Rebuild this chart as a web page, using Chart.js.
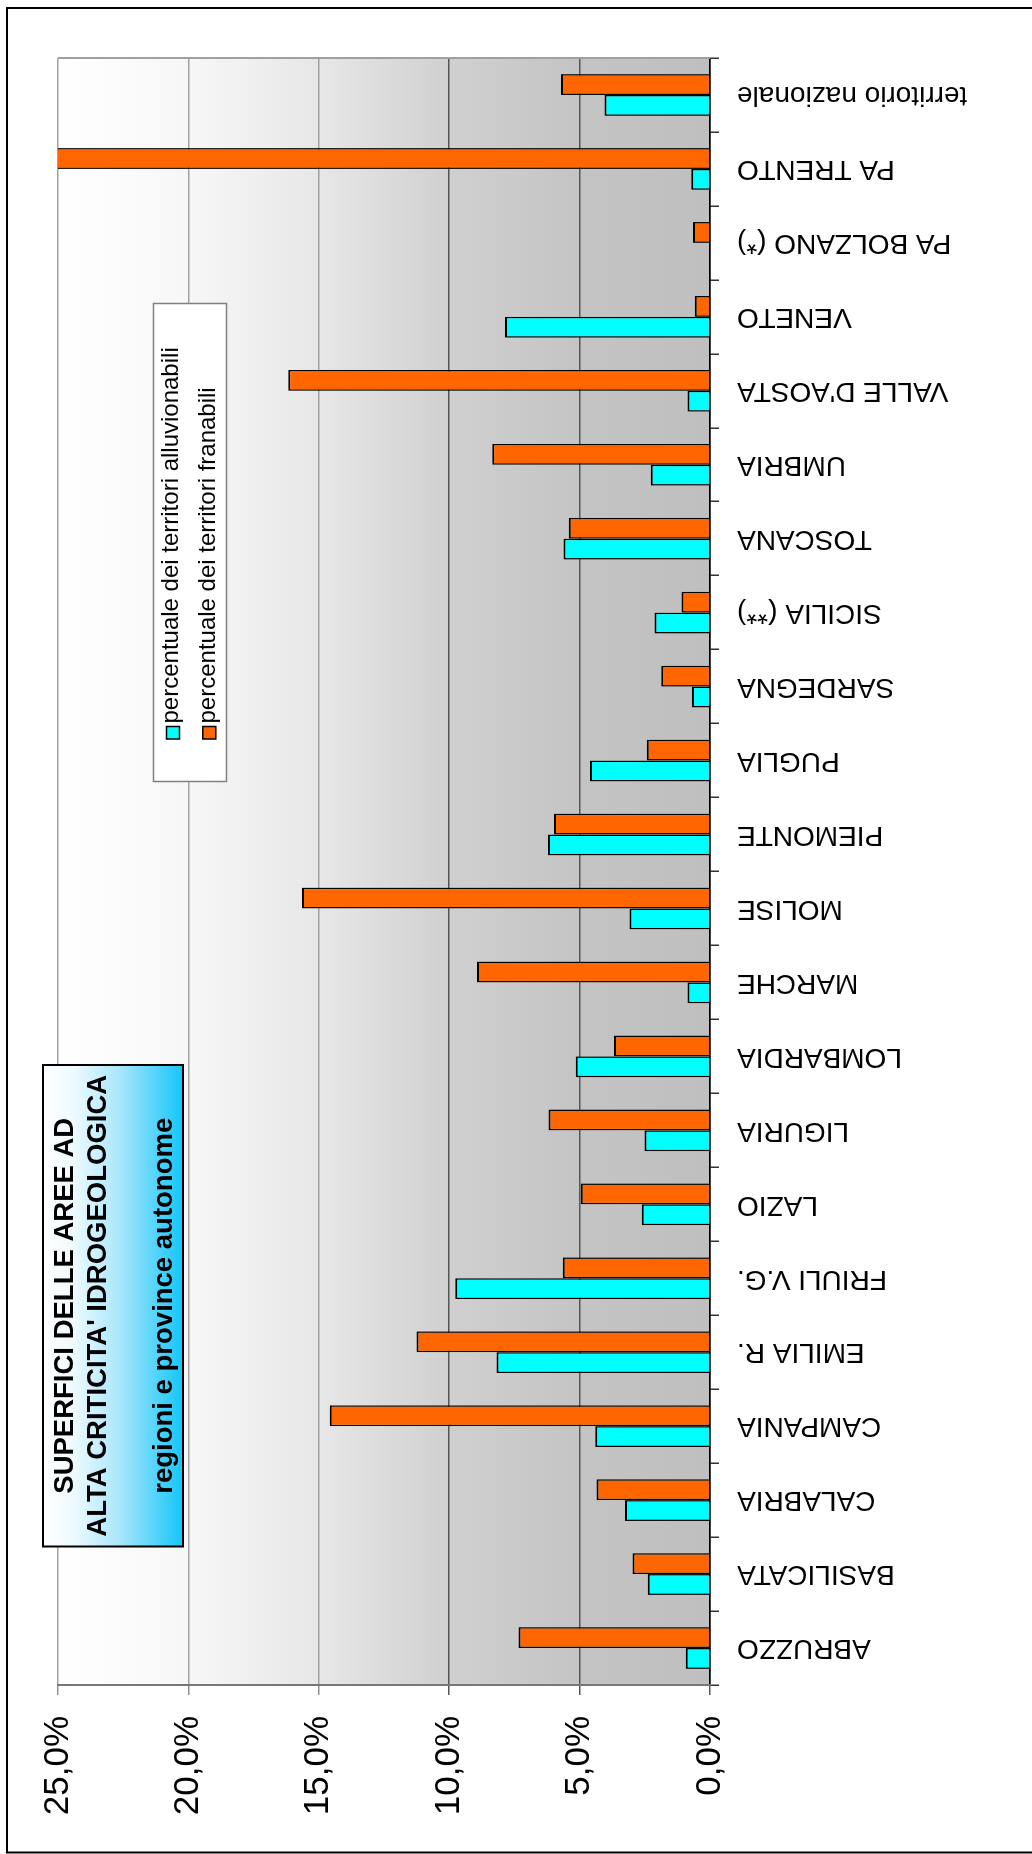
<!DOCTYPE html>
<html>
<head>
<meta charset="utf-8">
<script src="https://cdn.jsdelivr.net/npm/chart.js@4.4.1/dist/chart.umd.min.js"></script>
<style>
  html, body { margin: 0; padding: 0; background: #ffffff; overflow: hidden; width: 1032px; height: 1854px; }
  /* the chart is laid out landscape and turned a quarter turn to stand upright */
  #frame { position: absolute; left: 0; top: 0; width: 1854px; height: 1032px;
           transform-origin: 0 0; transform: translate(0, 1854px) rotate(-90deg); }
  canvas { display: block; }
</style>
</head>
<body>
<div id="frame"><canvas id="chart" width="1854" height="1032"></canvas></div>
<script>
// Regions and autonomous provinces, in axis order
const categories = [
  'ABRUZZO', 'BASILICATA', 'CALABRIA', 'CAMPANIA', 'EMILIA R.', 'FRIULI V.G.',
  'LAZIO', 'LIGURIA', 'LOMBARDIA', 'MARCHE', 'MOLISE', 'PIEMONTE', 'PUGLIA',
  'SARDEGNA', 'SICILIA (**)', 'TOSCANA', 'UMBRIA', "VALLE D'AOSTA", 'VENETO',
  'PA BOLZANO (*)', 'PA TRENTO', 'territorio nazionale'
];

// Share of territory (%) subject to flooding
const alluvionabili = [
  0.93, 2.39, 3.26, 4.40, 8.19, 9.77, 2.62, 2.51, 5.15, 0.86, 3.09, 6.21, 4.60,
  0.69, 2.13, 5.62, 2.27, 0.86, 7.86, null, 0.72, 4.05
];

// Share of territory (%) subject to landslides
const franabili = [
  7.34, 2.97, 4.35, 14.58, 11.25, 5.65, 4.96, 6.19, 3.68, 8.93, 15.64, 5.98, 2.43,
  1.87, 1.09, 5.42, 8.35, 16.17, 0.58, 0.65, 30.0, 5.71
];

const seriesLabels = [
  'percentuale dei territori alluvionabili',
  'percentuale dei territori franabili'
];

const valueTicks = [0, 5, 10, 15, 20, 25];

const titleLines = ['SUPERFICI DELLE AREE AD', "ALTA CRITICITA' IDROGEOLOGICA", '', 'regioni e province autonome'];

Chart.defaults.font.family = "'Liberation Sans', Arial, Helvetica, sans-serif";
Chart.defaults.color = '#000000';

// grey gradient behind the bars, light at the top of the scale
const plotBackground = {
  id: 'plotBackground',
  beforeDraw(chart) {
    const { ctx, chartArea: a } = chart;
    const g = ctx.createLinearGradient(0, a.top, 0, a.bottom);
    g.addColorStop(0.00, '#ffffff');
    g.addColorStop(0.20, '#f7f7f7');
    g.addColorStop(0.40, '#e7e7e7');
    g.addColorStop(0.60, '#d0d0d0');
    g.addColorStop(0.80, '#c4c4c4');
    g.addColorStop(1.00, '#bfbfbf');
    ctx.save();
    ctx.fillStyle = g;
    ctx.fillRect(a.left, a.top, a.right - a.left, a.bottom - a.top);
    ctx.restore();
  }
};

// plot edge, outer frame, title box and legend
const overlay = {
  id: 'overlay',
  afterDraw(chart) {
    const { ctx, chartArea: a } = chart;
    ctx.save();

    ctx.strokeStyle = '#a0a0a0';
    ctx.lineWidth = 2;
    ctx.beginPath();
    ctx.moveTo(a.right, a.top);
    ctx.lineTo(a.right, a.bottom);
    ctx.stroke();

    ctx.strokeStyle = '#000000';
    ctx.lineWidth = 2;
    ctx.beginPath();
    ctx.moveTo(1.5, 1040);
    ctx.lineTo(1.5, 7);
    ctx.lineTo(1846, 7);
    ctx.lineTo(1846, 1040);
    ctx.stroke();

    // title box
    const tb = { x: 307.5, y: 43, w: 481.5, h: 140 };
    const tg = ctx.createLinearGradient(0, tb.y, 0, tb.y + tb.h);
    tg.addColorStop(0.00, '#ffffff');
    tg.addColorStop(0.22, '#eefaff');
    tg.addColorStop(0.55, '#a8e6fc');
    tg.addColorStop(1.00, '#14c6f8');
    ctx.fillStyle = tg;
    ctx.fillRect(tb.x, tb.y, tb.w, tb.h);
    ctx.strokeStyle = '#000000';
    ctx.lineWidth = 2;
    ctx.strokeRect(tb.x, tb.y, tb.w, tb.h);
    ctx.fillStyle = '#000000';
    ctx.font = "bold 27.5px 'Liberation Sans', Arial, sans-serif";
    ctx.textAlign = 'center';
    ctx.textBaseline = 'alphabetic';
    const cx = tb.x + tb.w / 2;
    titleLines.forEach((line, i) => {
      if (line) ctx.fillText(line, cx, 73 + i * 33);
    });

    // legend
    const lg = { x: 1072.5, y: 153.5, w: 478, h: 73 };
    ctx.fillStyle = '#ffffff';
    ctx.fillRect(lg.x, lg.y, lg.w, lg.h);
    ctx.strokeStyle = '#808080';
    ctx.lineWidth = 1.5;
    ctx.strokeRect(lg.x, lg.y, lg.w, lg.h);
    ctx.font = "24px 'Liberation Sans', Arial, sans-serif";
    ctx.textAlign = 'left';
    ctx.textBaseline = 'alphabetic';
    chart.data.datasets.forEach((ds, i) => {
      const sy = 166.5 + i * 36.3;
      ctx.fillStyle = ds.backgroundColor;
      ctx.fillRect(1115, sy, 12.5, 13);
      ctx.strokeStyle = '#000000';
      ctx.lineWidth = 1.5;
      ctx.strokeRect(1115, sy, 12.5, 13);
      ctx.fillStyle = '#000000';
      ctx.fillText(ds.label, 1130.5, 178 + i * 36.5);
    });

    ctx.restore();
  }
};

function valueGridColor(ctx) {
  const v = ctx.tick ? ctx.tick.value : 0;
  if (v === 0) return '#000000';
  return v >= 15 ? '#a2a2a2' : '#555555';
}

new Chart(document.getElementById('chart'), {
  type: 'bar',
  data: {
    labels: categories,
    datasets: [
      {
        label: seriesLabels[0],
        data: alluvionabili,
        backgroundColor: '#00ffff',
        borderColor: '#000000',
        borderWidth: { top: 2, left: 1.5, right: 1.5, bottom: 0 }
      },
      {
        label: seriesLabels[1],
        data: franabili,
        backgroundColor: '#ff6600',
        borderColor: '#000000',
        borderWidth: { top: 2, left: 1.5, right: 1.5, bottom: 0 }
      }
    ]
  },
  options: {
    responsive: false,
    devicePixelRatio: 1,
    animation: false,
    events: [],
    layout: { padding: { top: 58, right: 58, left: 0, bottom: 0 } },
    datasets: { bar: { categoryPercentage: 0.564, barPercentage: 1.0 } },
    plugins: {
      legend: { display: false },
      title: { display: false },
      tooltip: { enabled: false }
    },
    scales: {
      x: {
        offset: true,
        grid: {
          offset: true,
          drawOnChartArea: false,
          drawTicks: true,
          tickLength: 9,
          color: '#333333',
          lineWidth: 1.5
        },
        border: { display: true, color: '#000000', width: 1.5 },
        ticks: {
          autoSkip: false,
          minRotation: 90,
          maxRotation: 90,
          padding: 18,
          color: '#000000',
          font: { size: 28 }
        },
        afterFit(scale) { scale.height = 322; }
      },
      y: {
        min: 0,
        max: 25,
        afterBuildTicks(scale) { scale.ticks = valueTicks.map(v => ({ value: v })); },
        grid: {
          color: valueGridColor,
          tickColor: ctx => (ctx.tick && ctx.tick.value < 15 ? '#555555' : '#909090'),
          lineWidth: 1.5,
          tickLength: 10
        },
        border: { display: true, color: '#777777', width: 2 },
        ticks: {
          padding: 21,
          color: '#000000',
          font: { size: 35 },
          callback: v => v.toFixed(1).replace('.', ',') + '%'
        },
        afterFit(scale) { scale.width = 169; }
      }
    }
  },
  plugins: [plotBackground, overlay]
});
</script>
</body>
</html>
